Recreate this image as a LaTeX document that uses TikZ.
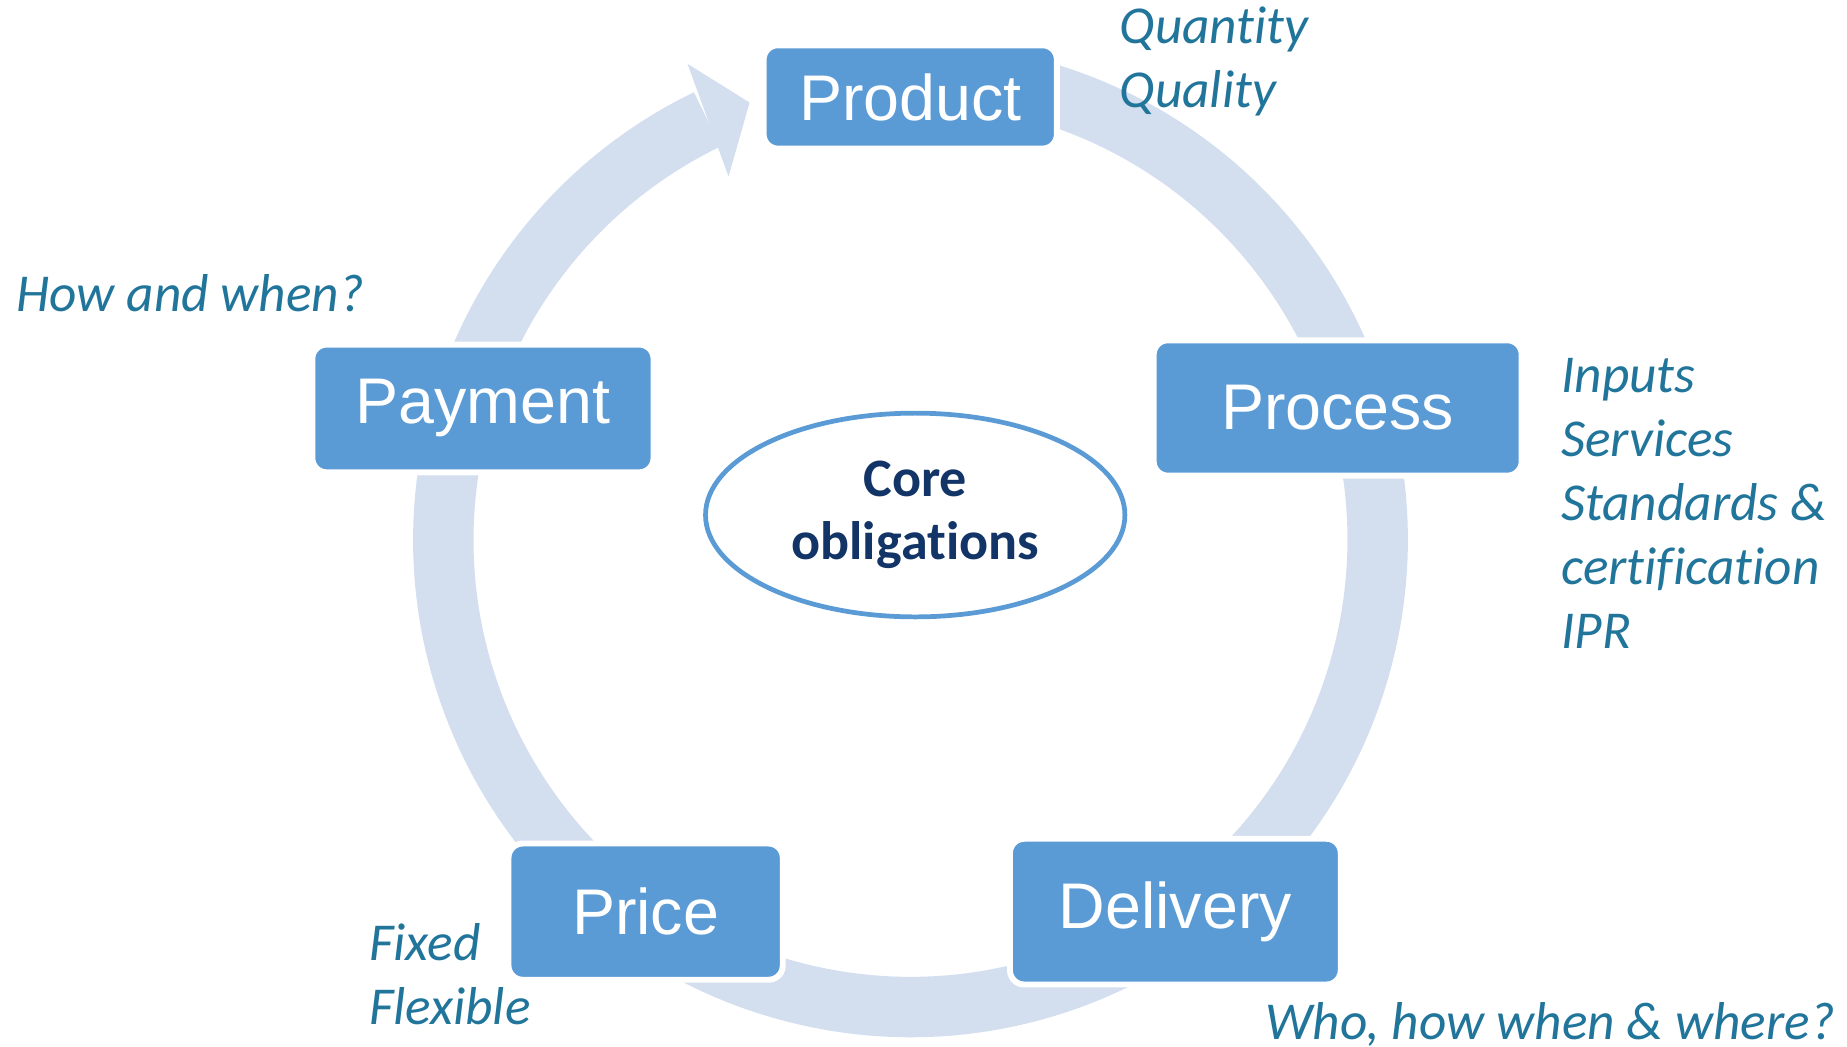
\documentclass[tikz,border=0pt]{standalone}
\usepackage{fontspec}
\setmainfont{Liberation Sans}
\newfontfamily\notefont{Carlito}[Ligatures=NoCommon]
\usetikzlibrary{shapes}
\definecolor{boxblue}{HTML}{5B9BD5}
\definecolor{ringblue}{HTML}{D3DEEF}
\definecolor{noteblue}{HTML}{21759B}
\definecolor{coreblue}{HTML}{123466}
\tikzset{%
    cycle_block/.style={%
        rectangle, rounded corners=0.12cm, draw=white, line width=0.05cm, fill=boxblue, text=white, font=\fontsize{15.5}{18}\selectfont
    },
    cycle_note/.style={%
        anchor=base west, align=left, inner sep=0pt, text=noteblue, font=\notefont\itshape\fontsize{12.8}{15.36}\selectfont
    },
    core_oval/.style={%
        ellipse, draw=boxblue, line width=0.04cm, fill=white, minimum width=3.54cm, minimum height=1.72cm, align=center, text=coreblue, font=\notefont\bfseries\fontsize{13}{15.1}\selectfont
    },
    cycle_ring/.style={%
        draw=ringblue, line width=0.51cm
    },
    cycle_head/.style={%
        fill=ringblue
    },
}

\begin{document}
\begin{tikzpicture}[x=0.01cm, y=0.01cm]
      \useasboundingbox (0,0) rectangle (1560,884.3);
      \coordinate (ringc) at (769,428.3);

      % ring and arrow head
      \draw[cycle_ring] (ringc) ++(75:394.5) arc[start angle=75, end angle=-244.2, radius=394.5];
      \fill[cycle_head] (ringc) +(115.1:444) -- +(110.2:393.6) -- +(116.6:343.2) -- cycle;

      \node[core_oval] (core) at (773,449.3) {Core\\obligations};

      \node[cycle_block, minimum width=2.475cm, minimum height=0.872cm] (product) at (768.8,802.4) {Product};
      \node[cycle_block, minimum width=3.106cm, minimum height=1.142cm] (process) at (1129.8,539.7) {Process};
      \node[cycle_block, minimum width=2.792cm, minimum height=1.23cm] (delivery) at (992.7,114.3) {Delivery};
      \node[cycle_block, minimum width=2.315cm, minimum height=1.15cm] (price) at (545.3,114.3) {Price};
      \node[cycle_block, minimum width=2.88cm, minimum height=1.078cm] (payment) at (407.9,539.3) {Payment};

      % notes (base = last line)
      \node[cycle_note] (product_note) at (945,793.6) {Quantity\\Quality};
      \node[cycle_note] (process_note) at (1318,336.7) {Inputs\\Services\\Standards \&\\certification\\IPR};
      \node[cycle_note] (delivery_note) at (1068,6.3) {Who, how when \& where?};
      \node[cycle_note] (price_note) at (311,19.3) {Fixed\\Flexible};
      \node[cycle_note] (payment_note) at (13,621.6) {How and when?};
\end{tikzpicture}
\end{document}
